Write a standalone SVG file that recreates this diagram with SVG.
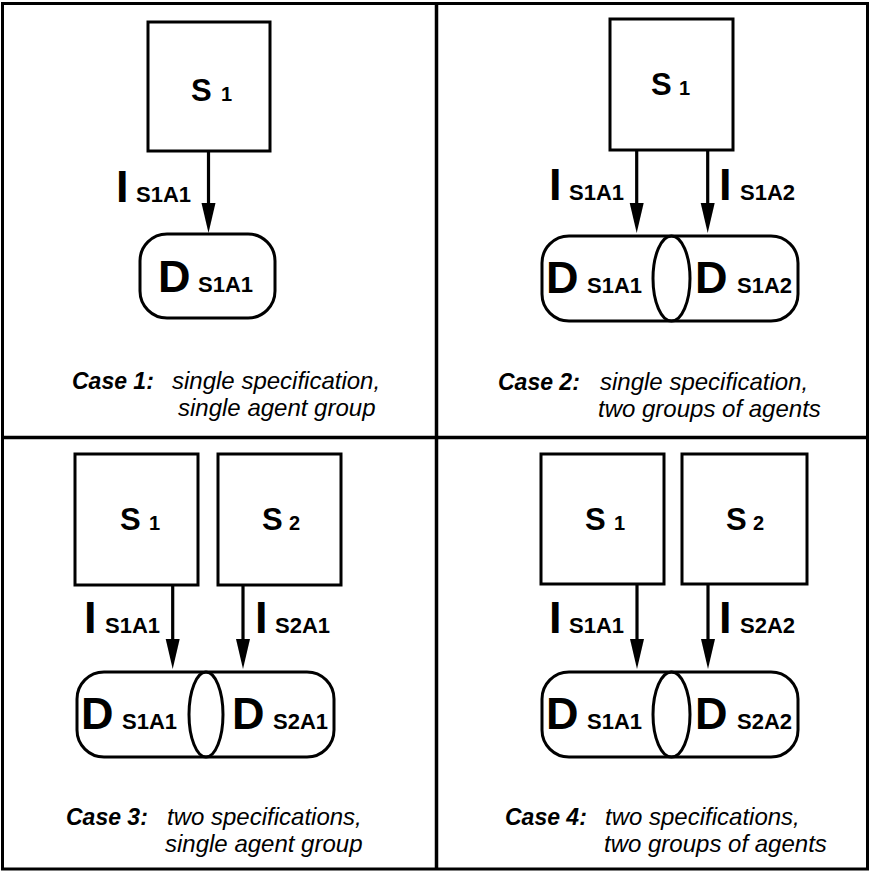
<svg xmlns="http://www.w3.org/2000/svg" width="870" height="872" viewBox="0 0 870 872">
<defs>
<style>
.frame{fill:none;stroke:#000;stroke-width:3}
.div{stroke:#000;stroke-width:3.5}
.box{fill:#fff;stroke:#000;stroke-width:3}
.dsh{fill:none;stroke:#000;stroke-width:3}
.edge{stroke:#000;stroke-width:3.2;fill:none}
.head{fill:#000;stroke:none}
text{font-family:"Liberation Sans",Arial,Helvetica,sans-serif;fill:#000}
.big{font-size:31px;font-weight:bold}
.idx{font-size:20px;font-weight:bold}
.il{font-size:45px;font-weight:bold}
.sub{font-size:22px;font-weight:bold}
.cb{font-size:23px;font-weight:bold;font-style:italic}
.ci{font-size:24px;font-style:italic}
</style>
</defs>
<rect width="870" height="872" fill="#fff"/>
<g id="frame">
<rect class="frame" x="2.5" y="3.5" width="865" height="865.5"/>
<line class="div" x1="436.5" y1="3.5" x2="436.5" y2="869"/>
<line class="div" x1="2.5" y1="437.5" x2="867.5" y2="437.5"/>
</g>

<!-- Panel 1 -->
<g id="p1-S1">
<rect class="box" x="148" y="22" width="122" height="129"/>
<text x="191" y="101"><tspan class="big">S</tspan><tspan class="idx" x="221">1</tspan></text>
</g>
<g id="p1-D">
<rect class="dsh" x="140" y="234" width="135" height="84" rx="27" ry="27"/>
<text x="158" y="292"><tspan class="il">D</tspan><tspan class="sub" x="198">S1A1</tspan></text>
</g>
<g id="p1-connectors">
<line class="edge" x1="208.5" y1="151" x2="208.5" y2="206"/>
<polygon class="head" points="208.5,233 201.5,203 215.5,203"/>
<text x="116" y="202"><tspan class="il">I</tspan><tspan class="sub" x="136">S1A1</tspan></text>
</g>
<g id="p1-caption">
<text class="cb" x="72" y="389">Case 1:</text>
<text class="ci" x="172" y="389">single specification,</text>
<text class="ci" x="178" y="416">single agent group</text>
</g>

<!-- Panel 2 -->
<g id="p2-S1">
<rect class="box" x="610" y="19" width="123" height="131"/>
<text x="651" y="95"><tspan class="big">S</tspan><tspan class="idx" x="679">1</tspan></text>
</g>
<g id="p2-D1">
<path class="dsh" d="M671.5 236 H569 A27 27 0 0 0 542 263 V294 A27 27 0 0 0 569 321 H671.5 A18.5 42.5 0 0 0 671.5 236 Z"/>
<text x="546" y="293"><tspan class="il">D</tspan><tspan class="sub" x="587">S1A1</tspan></text>
</g>
<g id="p2-D2">
<path class="dsh" d="M671.5 236 H771 A27 27 0 0 1 798 263 V294 A27 27 0 0 1 771 321 H671.5 A18.5 42.5 0 0 1 671.5 236 Z"/>
<text x="695" y="293"><tspan class="il">D</tspan><tspan class="sub" x="737">S1A2</tspan></text>
</g>
<g id="p2-connectors">
<line class="edge" x1="636.7" y1="150" x2="636.7" y2="206"/>
<polygon class="head" points="636.7,233 629.7,203 643.7,203"/>
<text x="549" y="200"><tspan class="il">I</tspan><tspan class="sub" x="569">S1A1</tspan></text>
<line class="edge" x1="707.7" y1="150" x2="707.7" y2="206"/>
<polygon class="head" points="707.7,233 700.7,203 714.7,203"/>
<text x="719" y="200"><tspan class="il">I</tspan><tspan class="sub" x="740">S1A2</tspan></text>
</g>
<g id="p2-caption">
<text class="cb" x="498" y="390">Case 2:</text>
<text class="ci" x="600" y="390">single specification,</text>
<text class="ci" x="598" y="417">two groups of agents</text>
</g>

<!-- Panel 3 -->
<g id="p3-S1">
<rect class="box" x="75" y="454" width="123" height="131"/>
<text x="120" y="530"><tspan class="big">S</tspan><tspan class="idx" x="149">1</tspan></text>
</g>
<g id="p3-S2">
<rect class="box" x="218" y="454" width="123" height="131"/>
<text x="262" y="530"><tspan class="big">S</tspan><tspan class="idx" x="289">2</tspan></text>
</g>
<g id="p3-D1">
<path class="dsh" d="M206 672 H104 A27 27 0 0 0 77 699 V730 A27 27 0 0 0 104 757 H206 A17 42.5 0 0 0 206 672 Z"/>
<text x="81" y="729"><tspan class="il">D</tspan><tspan class="sub" x="122">S1A1</tspan></text>
</g>
<g id="p3-D2">
<path class="dsh" d="M206 672 H307 A27 27 0 0 1 334 699 V730 A27 27 0 0 1 307 757 H206 A17 42.5 0 0 1 206 672 Z"/>
<text x="232" y="729"><tspan class="il">D</tspan><tspan class="sub" x="273">S2A1</tspan></text>
</g>
<g id="p3-connectors">
<line class="edge" x1="172.7" y1="585" x2="172.7" y2="642"/>
<polygon class="head" points="172.7,669 165.7,639 179.7,639"/>
<text x="84" y="633"><tspan class="il">I</tspan><tspan class="sub" x="105">S1A1</tspan></text>
<line class="edge" x1="243" y1="585" x2="243" y2="642"/>
<polygon class="head" points="243,669 236,639 250,639"/>
<text x="255" y="633"><tspan class="il">I</tspan><tspan class="sub" x="275">S2A1</tspan></text>
</g>
<g id="p3-caption">
<text class="cb" x="66" y="825">Case 3:</text>
<text class="ci" x="167" y="825">two specifications,</text>
<text class="ci" x="165" y="852">single agent group</text>
</g>

<!-- Panel 4 -->
<g id="p4-S1">
<rect class="box" x="541" y="454" width="123" height="130"/>
<text x="585" y="530"><tspan class="big">S</tspan><tspan class="idx" x="614">1</tspan></text>
</g>
<g id="p4-S2">
<rect class="box" x="682" y="454" width="125" height="130"/>
<text x="726" y="530"><tspan class="big">S</tspan><tspan class="idx" x="753">2</tspan></text>
</g>
<g id="p4-D1">
<path class="dsh" d="M671.5 672 H569 A27 27 0 0 0 542 699 V730 A27 27 0 0 0 569 757 H671.5 A18.5 42.5 0 0 0 671.5 672 Z"/>
<text x="546" y="729"><tspan class="il">D</tspan><tspan class="sub" x="587">S1A1</tspan></text>
</g>
<g id="p4-D2">
<path class="dsh" d="M671.5 672 H771 A27 27 0 0 1 798 699 V730 A27 27 0 0 1 771 757 H671.5 A18.5 42.5 0 0 1 671.5 672 Z"/>
<text x="695" y="729"><tspan class="il">D</tspan><tspan class="sub" x="737">S2A2</tspan></text>
</g>
<g id="p4-connectors">
<line class="edge" x1="637" y1="584" x2="637" y2="642"/>
<polygon class="head" points="637,669 630,639 644,639"/>
<text x="549" y="633"><tspan class="il">I</tspan><tspan class="sub" x="569">S1A1</tspan></text>
<line class="edge" x1="708" y1="584" x2="708" y2="642"/>
<polygon class="head" points="708,669 701,639 715,639"/>
<text x="719" y="633"><tspan class="il">I</tspan><tspan class="sub" x="740">S2A2</tspan></text>
</g>
<g id="p4-caption">
<text class="cb" x="505" y="825">Case 4:</text>
<text class="ci" x="605" y="825">two specifications,</text>
<text class="ci" x="604" y="852">two groups of agents</text>
</g>
</svg>
